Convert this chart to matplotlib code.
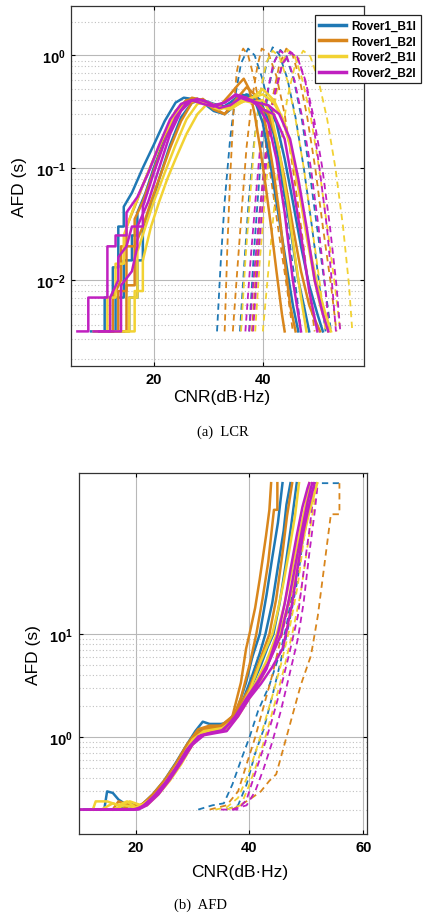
import matplotlib
matplotlib.use('Agg')
import matplotlib.pyplot as plt
from matplotlib.ticker import FixedLocator, NullFormatter

names = ['Rover1_B1I', 'Rover1_B2I', 'Rover2_B1I', 'Rover2_B2I']
colors = ['#1f78b4', '#d9861c', '#f2d232', '#c020c0']

# ---- panel (a) LCR : solid curves ----
lcr_solid_r1b1 = [
    ([8.5, 11, 11, 12.5, 12.5, 13.5, 13.5, 14.5, 14.5, 16, 18, 20, 22, 24, 25.5, 27, 29, 31, 33, 35, 37, 38.5, 40, 41.5, 43, 44.5, 45.5, 46.5],
     [.0035, .0035, .007, .007, .013, .013, .03, .03, .045, .06, .1, .16, .26, .38, .42, .41, .38, .32, .3, .36, .42, .4, .25, .1, .035, .012, .006, .0035]),
    ([10, 13, 13, 14.5, 14.5, 16, 16, 17, 17, 18.5, 20, 22, 24, 26, 28, 30, 32, 34, 36, 38, 40, 42, 43.5, 45, 46.5, 47.5, 48.5],
     [.0035, .0035, .007, .007, .015, .015, .025, .025, .04, .06, .1, .18, .3, .4, .41, .36, .33, .38, .45, .42, .35, .2, .08, .03, .01, .006, .0035]),
    ([12, 15.5, 15.5, 17, 17, 18, 18, 19.5, 21, 23, 25, 27, 29, 31, 33, 35, 37, 39, 41, 42.5, 44, 45.5, 47, 48.5, 50, 51],
     [.0035, .0035, .007, .007, .015, .015, .03, .045, .08, .16, .28, .38, .4, .37, .35, .4, .45, .42, .35, .25, .12, .05, .02, .009, .005, .0035]),
]
lcr_solid_r1b2 = [
    ([10.5, 12.5, 12.5, 14, 14, 15, 15, 16.5, 18, 20, 22, 24, 26, 28, 30, 32, 34, 35.5, 36.5, 37.5, 38.5, 39.5, 40.5, 41.5, 42.5, 43.5, 44],
     [.0035, .0035, .007, .01, .02, .02, .03, .045, .07, .12, .2, .32, .4, .41, .36, .35, .45, .55, .62, .5, .3, .15, .07, .03, .012, .005, .0035]),
    ([11.5, 13.5, 13.5, 15, 15, 16.5, 16.5, 18, 19.5, 21, 23, 25, 27, 29, 31, 33, 35, 37, 38.5, 40, 41, 42, 43, 44, 45, 46],
     [.0035, .0035, .008, .008, .02, .02, .035, .05, .08, .13, .23, .34, .42, .4, .33, .3, .4, .52, .45, .32, .18, .09, .04, .015, .006, .0035]),
    ([13, 15, 15, 16.5, 16.5, 18, 19.5, 21, 23, 25, 27, 29, 31, 33, 35, 37, 39, 41, 42.5, 44, 45.5, 47, 48.5, 49.5, 50.5],
     [.0035, .0035, .009, .009, .02, .03, .05, .08, .15, .26, .38, .41, .34, .3, .38, .42, .38, .3, .18, .08, .03, .012, .006, .0045, .0035]),
]
lcr_solid_r2b1 = [
    ([9, 11.5, 11.5, 13, 13, 14.5, 14.5, 16, 18, 20, 22, 24, 26, 28, 30, 32, 34, 36, 38, 40, 41.5, 43, 44.5, 46, 47, 48],
     [.0035, .0035, .007, .007, .014, .014, .025, .04, .07, .12, .2, .3, .38, .4, .36, .33, .36, .4, .38, .4, .3, .14, .05, .015, .007, .0035]),
    ([13, 15.5, 15.5, 17, 17, 18.5, 20, 22, 24, 26, 28, 30, 32, 34, 36, 38, 40, 42, 43.5, 45, 46.5, 48, 49.5, 50.5, 52],
     [.0035, .0035, .007, .007, .018, .03, .05, .09, .16, .27, .37, .38, .34, .34, .38, .42, .45, .38, .28, .16, .07, .025, .01, .006, .0035]),
    ([15, 16.5, 16.5, 18, 18, 19.5, 21, 22.5, 24, 26, 28, 30, 32, 34, 36, 38, 40, 42, 44, 45.5, 47, 48.5, 50, 51.5, 52.5],
     [.0035, .0035, .008, .008, .015, .03, .05, .08, .12, .2, .3, .38, .35, .33, .38, .42, .5, .4, .25, .12, .05, .02, .009, .005, .0035]),
]
lcr_solid_r2b2 = [
    ([6, 8, 8, 11.5, 11.5, 13, 13, 15, 15, 17, 19, 21, 23, 25, 27, 29, 31, 33, 35, 37, 39, 41, 42.5, 44, 45.5, 47],
     [.0035, .0035, .007, .007, .02, .02, .025, .025, .04, .055, .09, .16, .27, .37, .4, .37, .35, .38, .45, .42, .36, .25, .12, .04, .01, .0035]),
    ([9, 12, 12, 13.5, 13.5, 15, 16, 16, 18, 18, 20, 22, 24, 26, 28, 30, 32, 34, 36, 38, 40, 42, 44, 45.5, 47, 48.5, 50],
     [.0035, .0035, .007, .01, .016, .02, .03, .03, .03, .045, .09, .17, .28, .38, .41, .38, .34, .36, .42, .4, .33, .3, .18, .07, .025, .008, .0035]),
    ([10, 14, 14, 16, 17, 17, 19, 21, 23, 25, 27, 29, 31, 33, 35, 37, 39, 41, 43, 45, 46.5, 48, 49.5, 51, 52],
     [.0035, .0035, .009, .012, .02, .03, .05, .1, .2, .32, .4, .4, .36, .38, .44, .4, .38, .36, .3, .18, .08, .03, .01, .005, .0035]),
]

# ---- panel (a) LCR : dashed curves ----
lcr_dash_r1b1 = [
    ([31.6, 32.3, 33, 34, 35, 36, 37.3, 38.5, 40, 41.5, 43, 44.5, 46, 47],
     [.0035, .015, .05, .18, .45, .85, 1.15, 1.0, .6, .28, .1, .03, .009, .0035]),
    ([35.8, 36.6, 37.4, 38.4, 39.5, 40.7, 41.8, 43, 44.5, 46, 47.5, 49, 50.5, 51.5],
     [.0035, .014, .05, .17, .45, .85, 1.18, 1.02, .62, .28, .1, .03, .008, .0035]),
    ([37.5, 38.3, 39.1, 40, 41, 42.2, 43.2, 44.3, 45.7, 47.2, 48.6, 50, 51.5, 52.5],
     [.0035, .016, .055, .2, .5, .9, 1.12, .98, .6, .26, .09, .028, .008, .0035]),
]
lcr_dash_r1b2 = [
    ([33, 33.5, 34, 34.6, 35.2, 35.8, 36.4, 37.3, 38.5, 40, 41.5, 43, 44.5, 45.5],
     [.0035, .02, .08, .3, .7, 1.0, 1.15, 1.0, .6, .25, .08, .025, .008, .0035]),
    ([34.5, 35.3, 36.1, 37, 38, 39, 39.8, 41, 42.5, 44, 45.5, 47, 48.5, 49.5],
     [.0035, .012, .04, .15, .4, .8, 1.15, 1.05, .65, .3, .1, .03, .008, .0035]),
    ([38, 38.8, 39.6, 40.6, 41.8, 43, 44.3, 45.4, 46.7, 48.1, 49.6, 51, 52.5, 53.5],
     [.0035, .013, .045, .16, .42, .82, 1.15, 1.03, .63, .29, .1, .03, .009, .0035]),
]
lcr_dash_r2b1 = [
    ([36, 36.8, 37.6, 38.5, 39.5, 40.6, 41.8, 43, 44.5, 46, 47.5, 49, 50.5, 51.5],
     [.0035, .015, .05, .18, .46, .86, 1.1, .98, .6, .27, .1, .03, .009, .0035]),
    ([38.6, 39.4, 40.3, 41.3, 42.4, 43.5, 44.6, 45.8, 47.2, 48.8, 50.3, 51.8, 53.2, 54.2],
     [.0035, .014, .048, .17, .44, .84, 1.12, 1.0, .62, .28, .1, .03, .009, .0035]),
    ([40, 41, 42, 43.2, 44.5, 45.9, 47.4, 48.7, 50.2, 51.8, 53.3, 54.7, 55.8, 56.4],
     [.0035, .012, .04, .15, .42, .82, 1.1, .98, .6, .27, .1, .03, .009, .0035]),
]
lcr_dash_r2b2 = [
    ([36.8, 37.7, 38.6, 39.6, 40.7, 41.9, 43.2, 44.4, 45.8, 47.3, 48.8, 50.2, 51.4, 52.2],
     [.0035, .014, .048, .17, .44, .84, 1.1, .98, .6, .27, .1, .03, .009, .0035]),
    ([37.5, 38.5, 39.5, 40.7, 42, 43.5, 45, 46.3, 47.8, 49.4, 50.9, 52.3, 53.5, 54.2],
     [.0035, .013, .045, .16, .42, .82, 1.08, .97, .6, .27, .1, .03, .009, .0035]),
    ([38.2, 39.1, 40, 41, 42.2, 43.6, 45.2, 46.4, 47.8, 49.2, 50.5, 51.8, 52.8, 53.4],
     [.0035, .015, .05, .18, .45, .85, 1.05, .95, .58, .26, .09, .028, .008, .0035]),
]

# ---- panel (b) AFD : solid curves ----
afd_solid_r1b1 = [
    ([11, 14.5, 15, 16, 17, 18, 20, 21, 23, 25, 27, 29, 30.5, 31.8, 33, 35, 36, 37.7, 39.4, 40.5, 41.8, 43, 44, 45, 45.8],
     [.2, .2, .3, .29, .25, .23, .22, .22, .28, .38, .56, .85, 1.15, 1.42, 1.35, 1.35, 1.38, 1.76, 3.4, 6, 10, 24, 55, 120, 290]),
    ([13, 17, 18, 20, 21, 23, 25, 27, 29, 31, 33, 35, 37, 39, 40.5, 41.8, 42.8, 44, 45, 46, 46.5, 47.2],
     [.2, .2, .22, .21, .22, .27, .36, .52, .8, 1.15, 1.25, 1.3, 1.55, 2.4, 4, 6.5, 10, 20, 45, 100, 180, 290]),
    ([15, 18, 19, 20.5, 22, 24, 26, 28, 30, 32, 34, 36, 38, 40, 42, 43.2, 44.2, 45.3, 46.3, 47.3, 48.3],
     [.2, .2, .23, .21, .23, .3, .42, .62, .95, 1.2, 1.25, 1.3, 1.8, 2.8, 5, 7.5, 10, 20, 45, 110, 290]),
]
afd_solid_r1b2 = [
    ([12, 16, 17, 19, 21, 23, 25, 27, 29, 31, 33, 35, 37, 38.5, 39.4, 40, 41, 41.8, 42.9, 43.5, 43.8],
     [.2, .2, .24, .22, .22, .28, .38, .55, .85, 1.2, 1.3, 1.3, 1.6, 3.4, 7.2, 10, 18, 34, 89, 160, 290]),
    ([14, 17.5, 19, 21, 23, 25, 27, 29, 31, 33, 35, 37, 38.5, 40, 41.2, 42.3, 43.3, 44.3, 44.9, 44.9],
     [.2, .2, .22, .22, .27, .36, .52, .8, 1.12, 1.25, 1.25, 1.5, 2.4, 5, 10, 22, 50, 160, 160, 290]),
    ([16, 19, 20, 22, 24, 26, 28, 30, 32, 34, 36, 38, 40, 41.5, 43.5, 44.7, 45.7, 46.6, 47.5],
     [.2, .2, .21, .24, .31, .44, .65, 1.0, 1.2, 1.25, 1.35, 1.9, 3, 5, 10, 22, 55, 140, 290]),
]
afd_solid_r2b1 = [
    ([12.5, 13, 15, 17, 18.5, 20, 22, 24, 26, 28, 30, 32, 34, 36, 38, 40, 42, 44, 45, 46, 47, 48, 48.7],
     [.2, .24, .24, .22, .24, .21, .23, .3, .42, .62, .95, 1.15, 1.2, 1.25, 1.7, 2.8, 5.5, 10, 17, 32, 65, 140, 290]),
    ([16, 18, 20, 22, 24, 26, 28, 30, 32, 34, 36, 38, 40, 42, 43.5, 45.3, 46.5, 47.8, 49, 50.2, 51.2, 51.9],
     [.2, .22, .21, .22, .28, .38, .55, .85, 1.1, 1.15, 1.2, 1.6, 2.4, 3.6, 5.5, 10, 17, 32, 65, 130, 210, 290]),
    ([14, 16, 17, 19, 21, 23, 25, 27, 29, 31, 33, 35, 37, 39, 41, 43, 44.8, 46, 47.3, 48.6, 49.8, 50.5],
     [.2, .23, .22, .24, .22, .26, .34, .48, .72, 1.0, 1.15, 1.2, 1.45, 2.1, 3.3, 5.5, 10, 18, 38, 85, 170, 290]),
]
afd_solid_r2b2 = [
    ([10, 20.5, 22, 24, 26, 28, 30, 32, 34, 36, 38, 40, 42, 44, 45.8, 46.4, 47.5, 48.5, 49.5, 50.5, 51.4],
     [.2, .2, .22, .28, .39, .57, .85, 1.05, 1.1, 1.15, 1.6, 2.4, 3.3, 4.8, 7.2, 10, 20, 45, 100, 180, 290]),
    ([10, 19.5, 21, 23, 25, 27, 29, 31, 33, 35, 37, 39, 41, 43, 45, 46.2, 47.2, 48.3, 49.3, 50.2, 50.5],
     [.2, .2, .21, .26, .35, .5, .76, 1.02, 1.1, 1.15, 1.45, 2.1, 3.0, 4.6, 10, 20, 42, 90, 170, 260, 290]),
    ([13, 20, 21.5, 23.5, 25.5, 27.5, 29.5, 31.5, 33.5, 35.5, 37.5, 39.5, 41.5, 43.5, 45.6, 46.8, 48, 49.2, 50.2, 51],
     [.2, .2, .22, .28, .38, .55, .82, 1.05, 1.12, 1.18, 1.6, 2.4, 3.5, 5.5, 10, 20, 45, 100, 190, 290]),
]

# ---- panel (b) AFD : dashed curves ----
afd_dash_r1b1 = [
    ([31, 33.5, 35.5, 37, 38.5, 40, 41.5, 43.5, 45.5, 46.5, 47.5, 48.5, 49.5, 50.5, 51.3, 55.8],
     [.2, .22, .23, .35, .6, 1.0, 1.8, 3.2, 7, 12, 25, 50, 100, 180, 290, 290]),
    ([36, 38, 39.5, 41, 42.5, 44, 45.5, 47, 48.5, 49.5, 50.5],
     [.2, .22, .35, .7, 1.2, 2.5, 5.5, 13, 35, 90, 290]),
]
afd_dash_r1b2 = [
    ([33, 36, 38, 39.5, 41, 42.5, 44, 45.5, 47, 48.5, 49.5, 50.5],
     [.2, .22, .3, .55, 1.0, 2, 4, 9, 20, 50, 120, 290]),
    ([37, 40, 42, 43.5, 44.7, 46, 47.5, 49, 50.8, 52, 53, 54.3, 55.8, 55.8],
     [.2, .25, .3, .38, .44, .8, 1.6, 3.2, 6.2, 15, 40, 145, 145, 290]),
]
afd_dash_r2b1 = [
    ([34, 36, 38, 39.5, 41, 42.5, 44, 45.5, 47, 48.5, 49.5, 50.5, 51.5],
     [.2, .21, .26, .4, .7, 1.3, 2.5, 5, 11, 30, 80, 170, 290]),
    ([36, 38.5, 40, 41.5, 43, 44.5, 46, 47.5, 49, 50, 51, 52],
     [.2, .22, .35, .6, 1.1, 2.2, 4.5, 10, 25, 60, 140, 290]),
]
afd_dash_r2b2 = [
    ([35, 38, 39.5, 41, 42.5, 44, 45.5, 47, 48.5, 49.5, 50.5, 51.5],
     [.2, .2, .25, .45, .8, 1.5, 3, 6.5, 15, 40, 100, 290]),
    ([37, 39.5, 41, 42.5, 44, 45.5, 47, 48.5, 49.5, 50.5, 51.5, 52],
     [.2, .22, .3, .5, .9, 1.8, 4, 9, 20, 60, 160, 290]),
]

lcr_solid = [lcr_solid_r1b1, lcr_solid_r1b2, lcr_solid_r2b1, lcr_solid_r2b2]
lcr_dash = [lcr_dash_r1b1, lcr_dash_r1b2, lcr_dash_r2b1, lcr_dash_r2b2]
afd_solid = [afd_solid_r1b1, afd_solid_r1b2, afd_solid_r2b1, afd_solid_r2b2]
afd_dash = [afd_dash_r1b1, afd_dash_r1b2, afd_dash_r2b1, afd_dash_r2b2]

plt.rcParams['font.family'] = ['Liberation Sans', 'DejaVu Sans']
plt.rcParams['mathtext.fontset'] = 'custom'
plt.rcParams['mathtext.bf'] = 'Liberation Sans:bold'
plt.rcParams['mathtext.rm'] = 'Liberation Sans'

fig = plt.figure(figsize=(4.32, 9.2), dpi=100)
ax1 = fig.add_axes([0.164, 0.601, 0.678, 0.391])
ax2 = fig.add_axes([0.182, 0.0924, 0.667, 0.392])


def draw(ax, solid, dash):
    for i in range(4):
        for xs, ys in dash[i]:
            ax.plot(xs, ys, color=colors[i], lw=1.3, ls=(0, (3.5, 2.5)))
    for i in range(4):
        for k, (xs, ys) in enumerate(solid[i]):
            ax.plot(xs, ys, color=colors[i], lw=1.8,
                    label=names[i] if k == 0 else None)


def style(ax, major, minor, labels, xticks):
    ax.set_yscale('log')
    ax.yaxis.set_major_locator(FixedLocator(major))
    ax.yaxis.set_minor_locator(FixedLocator(minor))
    ax.yaxis.set_minor_formatter(NullFormatter())
    ax.set_yticklabels(labels)
    ax.set_xticks(xticks)
    ax.set_xticklabels([str(t) for t in xticks], fontweight='bold')
    ax.grid(True, which='major', color='#b8b8b8', lw=0.8, ls='-')
    ax.grid(True, which='minor', axis='y', color='#c0c0c0', lw=0.8, ls=(0, (1, 2)))
    ax.tick_params(which='both', direction='in', top=True, right=True,
                   labelsize=10.5, pad=4)
    ax.tick_params(which='minor', length=0)
    ax.tick_params(which='major', length=3)
    for s in ax.spines.values():
        s.set_color('#333333')
        s.set_linewidth(0.9)
    ax.set_axisbelow(True)


draw(ax1, lcr_solid, lcr_dash)
ax1.set_xlim(4.8, 58.5)
ax1.set_ylim(0.00172, 2.73)
minor1 = [m * 10.0 ** e for e in (-3, -2, -1, 0) for m in range(2, 10)]
style(ax1, [1e-2, 1e-1, 1e0], minor1,
      [r'$\mathbf{10^{-2}}$', r'$\mathbf{10^{-1}}$', r'$\mathbf{10^{0}}$'], [20, 40])
ax1.set_xlabel('CNR(dB·Hz)', fontsize=12.5)
ax1.set_ylabel('AFD (s)', fontsize=12.5)
ax1.xaxis.set_label_coords(0.515, -0.064)
ax1.yaxis.set_label_coords(-0.15, 0.5)
leg = ax1.legend(loc='upper left', bbox_to_anchor=(0.832, 0.975),
                 prop={'weight': 'bold', 'size': 8.5}, frameon=True, fancybox=False,
                 edgecolor='#222222', framealpha=1, handlelength=2.3,
                 borderpad=0.4, labelspacing=0.3, handletextpad=0.4,
                 borderaxespad=0)
for h in leg.get_lines():
    h.set_linewidth(2.5)
leg.get_frame().set_linewidth(0.9)
fig.text(0.516, 0.530, '(a)  LCR', ha='center', va='center', fontsize=10.5,
         family=['Liberation Serif'])

draw(ax2, afd_solid, afd_dash)
ax2.set_xlim(10, 60.6)
ax2.set_ylim(0.116, 361)
minor2 = [0.2, 0.3, 0.4, 0.5, 0.6, 0.7, 0.8, 0.9, 2, 3, 4, 5, 6, 7, 8, 9]
style(ax2, [1e0, 1e1], minor2,
      [r'$\mathbf{10^{0}}$', r'$\mathbf{10^{1}}$'], [20, 40, 60])
ax2.set_xlabel('CNR(dB·Hz)', fontsize=12.5)
ax2.set_ylabel('AFD (s)', fontsize=12.5)
ax2.xaxis.set_label_coords(0.56, -0.083)
ax2.yaxis.set_label_coords(-0.13, 0.5)
fig.text(0.465, 0.016, '(b)  AFD', ha='center', va='center', fontsize=10.5,
         family=['Liberation Serif'])

plt.savefig('out.png', dpi=100)
